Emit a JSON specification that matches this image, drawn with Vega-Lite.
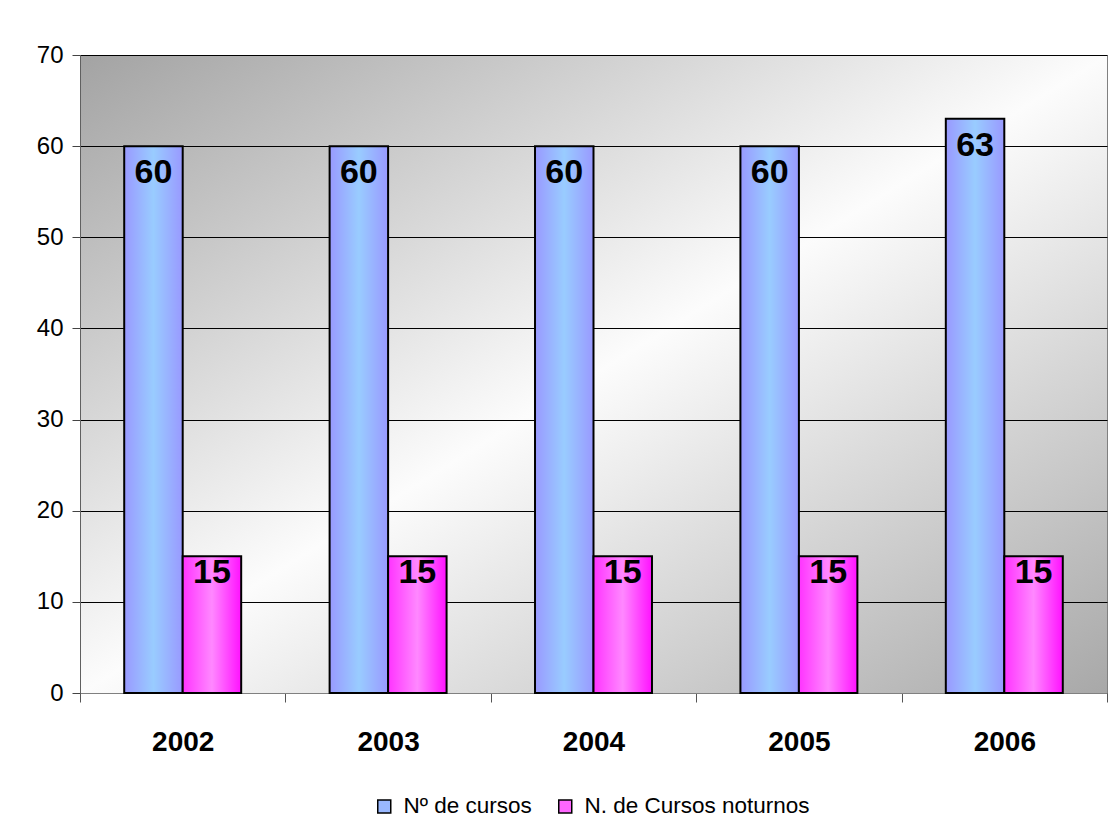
{
  "$schema": "https://vega.github.io/schema/vega-lite/v6.json",
  "width": 1027,
  "height": 638,
  "autosize": {"type": "none"},
  "padding": {"left": 80, "top": 55, "right": 1, "bottom": 132},
  "background": "white",
  "config": {
    "font": "Liberation Sans",
    "view": {
      "fill": {
        "gradient": "linear",
        "x1": 0, "y1": 0, "x2": 1, "y2": 1,
        "stops": [
          {"offset": 0, "color": "#a3a3a3"},
          {"offset": 0.5, "color": "#fcfcfc"},
          {"offset": 1, "color": "#a8a8a8"}
        ]
      },
      "stroke": "#808080",
      "strokeWidth": 1
    }
  },
  "data": {
    "values": [
      {"ano": "2002", "serie": "Nº de cursos", "valor": 60},
      {"ano": "2002", "serie": "N. de Cursos noturnos", "valor": 15},
      {"ano": "2003", "serie": "Nº de cursos", "valor": 60},
      {"ano": "2003", "serie": "N. de Cursos noturnos", "valor": 15},
      {"ano": "2004", "serie": "Nº de cursos", "valor": 60},
      {"ano": "2004", "serie": "N. de Cursos noturnos", "valor": 15},
      {"ano": "2005", "serie": "Nº de cursos", "valor": 60},
      {"ano": "2005", "serie": "N. de Cursos noturnos", "valor": 15},
      {"ano": "2006", "serie": "Nº de cursos", "valor": 63},
      {"ano": "2006", "serie": "N. de Cursos noturnos", "valor": 15}
    ]
  },
  "encoding": {
    "x": {
      "field": "ano",
      "type": "nominal",
      "scale": {"paddingInner": 0, "paddingOuter": 0},
      "axis": {
        "title": null,
        "labelAngle": 0,
        "labelFont": "Liberation Sans",
        "labelFontWeight": "bold",
        "labelFontSize": 28,
        "labelColor": "black",
        "labelPadding": 26,
        "labelBaseline": "top",
        "tickBand": "extent",
        "tickSize": 9,
        "tickColor": "#555555",
        "domainColor": "#808080",
        "grid": false
      }
    },
    "xOffset": {
      "field": "serie",
      "type": "nominal",
      "scale": {
        "domain": ["Nº de cursos", "N. de Cursos noturnos"],
        "paddingInner": 0,
        "paddingOuter": 0.756
      }
    },
    "y": {
      "field": "valor",
      "type": "quantitative",
      "scale": {"domain": [0, 70], "nice": false},
      "axis": {
        "title": null,
        "values": [0, 10, 20, 30, 40, 50, 60, 70],
        "labelFont": "Liberation Sans",
        "labelFontSize": 24,
        "labelColor": "black",
        "labelPadding": 9,
        "tickSize": 8,
        "tickColor": "#444444",
        "domainColor": "#606060",
        "grid": true,
        "gridColor": "black",
        "gridWidth": 1
      }
    }
  },
  "layer": [
    {
      "transform": [{"filter": "datum.serie === 'Nº de cursos'"}],
      "mark": {
        "type": "bar",
        "stroke": "black",
        "strokeWidth": 2,
        "fill": {
          "gradient": "linear", "x1": 0, "y1": 0, "x2": 1, "y2": 0,
          "stops": [
            {"offset": 0, "color": "#9999ff"},
            {"offset": 0.5, "color": "#99ccff"},
            {"offset": 1, "color": "#9999ff"}
          ]
        }
      }
    },
    {
      "transform": [{"filter": "datum.serie === 'N. de Cursos noturnos'"}],
      "mark": {
        "type": "bar",
        "stroke": "black",
        "strokeWidth": 2,
        "fill": {
          "gradient": "linear", "x1": 0, "y1": 0, "x2": 1, "y2": 0,
          "stops": [
            {"offset": 0, "color": "#ff33ff"},
            {"offset": 0.5, "color": "#ff88ff"},
            {"offset": 1, "color": "#ff11ff"}
          ]
        }
      }
    },
    {
      "mark": {"type": "bar", "opacity": 0, "strokeOpacity": 0},
      "encoding": {
        "color": {
          "field": "serie",
          "type": "nominal",
          "scale": {
            "domain": ["Nº de cursos", "N. de Cursos noturnos"],
            "range": ["#99b8ff", "#ff66ff"]
          },
          "legend": {
            "title": null,
            "orient": "none",
            "legendX": 293,
            "legendY": 740,
            "direction": "horizontal",
            "symbolType": "square",
            "symbolSize": 169,
            "symbolStrokeColor": "black",
            "symbolStrokeWidth": 1.5,
            "symbolOpacity": 1,
            "labelFont": "Liberation Sans",
            "labelFontSize": 22.5,
            "labelColor": "black",
            "labelOffset": 8,
            "columnPadding": 22,
            "labelLimit": 400
          }
        }
      }
    },
    {
      "transform": [{"filter": "datum.serie === 'Nº de cursos'"}],
      "mark": {
        "type": "text",
        "font": "Liberation Sans",
        "fontWeight": "bold",
        "fontSize": 34,
        "baseline": "top",
        "align": "center",
        "dy": 10,
        "color": "black"
      },
      "encoding": {"text": {"field": "valor", "type": "quantitative"}}
    },
    {
      "transform": [{"filter": "datum.serie === 'N. de Cursos noturnos'"}],
      "mark": {
        "type": "text",
        "font": "Liberation Sans",
        "fontWeight": "bold",
        "fontSize": 34,
        "baseline": "top",
        "align": "center",
        "dy": 0,
        "color": "black"
      },
      "encoding": {"text": {"field": "valor", "type": "quantitative"}}
    }
  ]
}
